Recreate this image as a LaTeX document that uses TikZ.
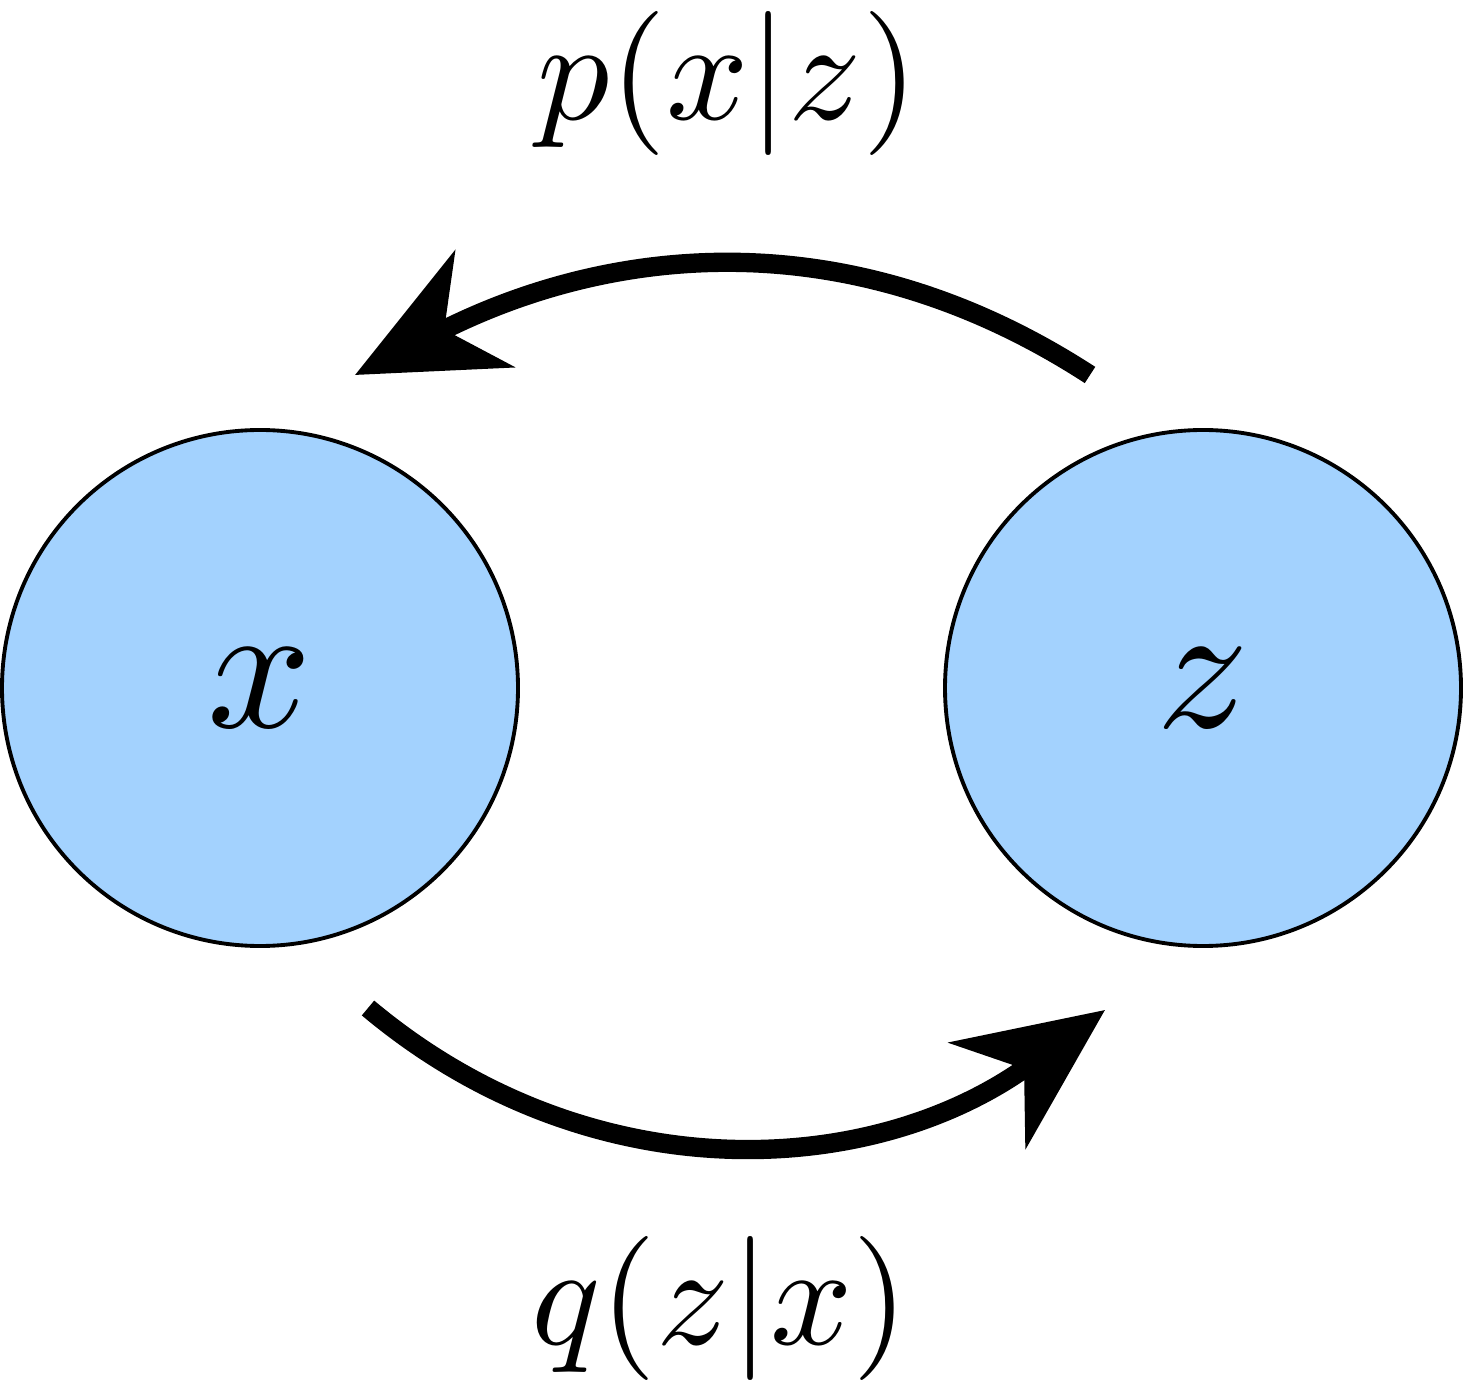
\documentclass[tikz,border=0pt]{standalone}
\usepackage{graphicx}
\usetikzlibrary{positioning,arrows.meta}
\definecolor{varblue}{HTML}{A3D2FE}
\begin{document}
\begin{tikzpicture}[
    var/.style={draw,line width=1.1pt,circle,fill=varblue,minimum size=5.16cm,inner sep=0pt},
    flow/.style={line width=5.5pt,-{Stealth[length=1.45cm,width=1.3cm,inset=0.45cm]}},
    lbl/.style={inner sep=0pt}]
    \useasboundingbox (0,0) rectangle (14.64,13.88);
    \node[var] (x) at (2.60,7.00) {\scalebox{5.2}{$x$}};
    \node[var] (z) at (12.03,7.00) {\scalebox{5.2}{$z$}};

    \coordinate (ztop) at (10.90,10.13);
    \coordinate (xtop) at (3.55,10.13);
    \coordinate (xbot) at (3.68,3.80);
    \coordinate (zbot) at (11.05,3.78);

    \node[lbl] (pxz) at (7.28,13.05) {\scalebox{4.1}{$p(x|z)$}};
    \node[lbl] (qzx) at (7.20,0.80) {\scalebox{4.1}{$q(z|x)$}};

    \draw[flow] (ztop) to[out=147,in=27] (xtop);
    \draw[flow] (xbot) to[out=-40,in=216] (zbot);
\end{tikzpicture}
\end{document}
